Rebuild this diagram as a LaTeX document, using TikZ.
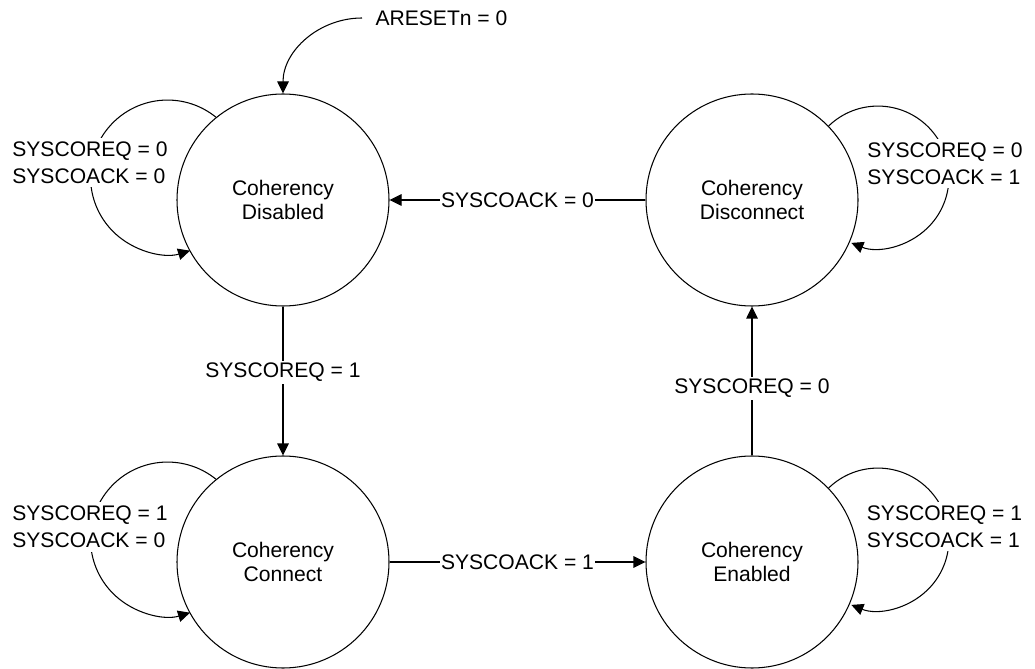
\documentclass[tikz,border=0pt]{standalone}
\usepackage{fontspec}
\setmainfont{Liberation Sans}
\usetikzlibrary{arrows.meta,positioning}

\begin{document}
\begin{tikzpicture}[line width=0.6pt, font=\fontsize{12}{14}\selectfont,
  st/.style={draw, circle, minimum size=42.4mm, inner sep=0pt, align=center},
  arr/.style={-{Triangle[length=2.4mm,width=2.3mm]}},
  lbl/.style={fill=white, inner xsep=0.4pt, inner ysep=1.2pt},
  cond/.style={fill=white, inner sep=2pt, align=left, font=\fontsize{12}{15.5}\selectfont}]
\useasboundingbox (0,0) rectangle (20.7,13.36);
% states
\node[st] (dis) at (5.66,9.36) {Coherency\\Disabled};
\node[st] (dsc) at (15.04,9.36) {Coherency\\Disconnect};
\node[st] (con) at (5.66,2.12) {Coherency\\Connect};
\node[st] (ena) at (15.04,2.12) {Coherency\\Enabled};
% reset
\node[anchor=west, inner ysep=0pt, inner xsep=0.26cm] (rst) at (7.24,13.0) {ARESETn = 0};
\draw[arr] (rst.west) to[out=180, in=90] (dis.north);
% transitions
\draw[arr] (dis) -- node[lbl, pos=0.44] {SYSCOREQ = 1} (con);
\draw[arr] (con) -- node[lbl] {SYSCOACK = 1} (ena);
\draw[arr] (ena) -- node[lbl, pos=0.45] {SYSCOREQ = 0} (dsc);
\draw[arr] (dsc) -- node[lbl] {SYSCOACK = 0} (dis);
% self loops
\draw[arr] (dis.129) arc[start angle=51, end angle=287, radius=1.54];
\draw[arr] (con.129) arc[start angle=51, end angle=287, radius=1.54];
\draw[arr] (dsc.44) arc[start angle=134, end angle=-112, radius=1.42];
\draw[arr] (ena.44) arc[start angle=134, end angle=-112, radius=1.42];
\node[cond] (c0) at (1.80,10.11) {SYSCOREQ = 0\\SYSCOACK = 0};
\node[cond] (c1) at (1.80,2.82) {SYSCOREQ = 1\\SYSCOACK = 0};
\node[cond] (c3) at (18.90,10.09) {SYSCOREQ = 0\\SYSCOACK = 1};
\node[cond] (c2) at (18.89,2.83) {SYSCOREQ = 1\\SYSCOACK = 1};
\end{tikzpicture}
\end{document}
